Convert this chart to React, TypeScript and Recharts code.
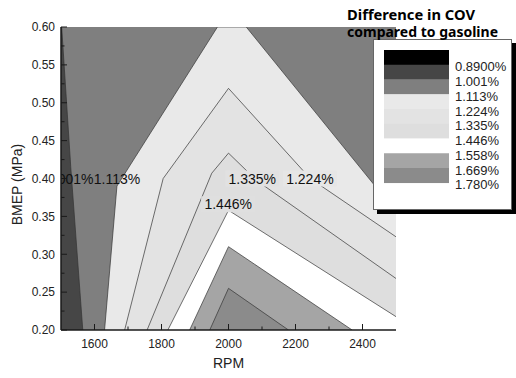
import React from "react";
import { Area, ComposedChart, Scatter, XAxis, YAxis } from "recharts";

// contour band edges as [rpm, bmep] corners; the band below each edge is filled
const edgeFrame = [[1500, 0.6], [2500, 0.6]];
const edge1001 = [[1500, 0.6], [1502, 0.6], [1529, 0.416], [1565, 0.2]];
const edge1113 = [[1630, 0.2], [1667, 0.39], [1967, 0.6], [2053, 0.6], [2500, 0.356]];
const edge1224 = [[1690, 0.2], [1805, 0.4], [2000, 0.519], [2244, 0.4], [2500, 0.323]];
const edge1335 = [[1757, 0.2], [1950, 0.407], [2000, 0.4335], [2085, 0.397], [2500, 0.268]];
const edge1446 = [[1819, 0.2], [2000, 0.358], [2500, 0.2176]];
const edge1558 = [[1884, 0.2], [2000, 0.31], [2369, 0.2]];
const edge1669 = [[1944, 0.2], [2000, 0.255], [2179, 0.2]];

const legendLevels = ["0.8900%", "1.001%", "1.113%", "1.224%", "1.335%", "1.446%", "1.558%", "1.669%", "1.780%"];

const contourLabels = [
  { text: "1.001%", rpm: 1526, bmep: 0.4 },
  { text: "1.113%", rpm: 1667, bmep: 0.4 },
  { text: "1.335%", rpm: 2071, bmep: 0.4 },
  { text: "1.224%", rpm: 2243, bmep: 0.4 },
  { text: "1.446%", rpm: 1999, bmep: 0.366 },
];

const xMajorTicks = [1600, 1800, 2000, 2200, 2400];
const xMinorTicks = [1700, 1900, 2100, 2300];
const yMajorTicks = [0.2, 0.25, 0.3, 0.35, 0.4, 0.45, 0.5, 0.55, 0.6];
const yMinorTicks = [0.225, 0.275, 0.325, 0.375, 0.425, 0.475, 0.525, 0.575];

// styles / layout
const W = 516;
const H = 378;
const MARGIN = { top: 27, right: 120, bottom: 0, left: 0 };
const Y_AXIS_W = 61;
const X_AXIS_H = 48;
const FONT = "'Liberation Sans', Arial, sans-serif";
const TEXT = "#222";
const AXIS = "#1a1a1a";
const LINE = "#333";
const BAND_FILLS = ["#000000", "#464646", "#7f7f7f", "#e9e9e9", "#e3e3e3", "#dedede", "#ffffff", "#a5a5a5", "#8b8b8b"];
const LABEL_BACKDROP: Record<string, string> = {
  "1.335%": "#e1e1e1",
  "1.224%": "#e6e6e6",
  "1.446%": "#dfdfdf",
};

const layers = [
  { key: "frame", edge: edgeFrame, band: 2, line: false },
  { key: "c1001", edge: edge1001, band: 1, line: true },
  { key: "c1113", edge: edge1113, band: 3, line: true },
  { key: "c1224", edge: edge1224, band: 4, line: true },
  { key: "c1335", edge: edge1335, band: 5, line: true },
  { key: "c1446", edge: edge1446, band: 6, line: true },
  { key: "c1558", edge: edge1558, band: 7, line: true },
  { key: "c1669", edge: edge1669, band: 8, line: true },
];

// one row per rpm, each edge only where it has a corner
const rows = new Map<number, Record<string, number>>();
layers.forEach((l) =>
  l.edge.forEach(([rpm, bmep]) => {
    const row = rows.get(rpm) ?? { rpm };
    row[l.key] = bmep;
    rows.set(rpm, row);
  })
);
const table = [...rows.values()].sort((a, b) => a.rpm - b.rpm);

const xTicks = [...xMajorTicks, ...xMinorTicks].sort((a, b) => a - b);
const yTicks = [...yMajorTicks, ...yMinorTicks].sort((a, b) => a - b);

const XTick = (props: any) => {
  const { x, y, payload } = props;
  const major = xMajorTicks.includes(payload.value);
  return (
    <g>
      <line x1={x} x2={x} y1={y} y2={y - (major ? 6 : 3.5)} stroke={AXIS} />
      {major && (
        <text x={x} y={y + 18} textAnchor="middle" fontSize={12} fontFamily={FONT} fill={TEXT}>
          {payload.value}
        </text>
      )}
    </g>
  );
};

const YTick = (props: any) => {
  const { x, y, payload } = props;
  const major = yMajorTicks.includes(payload.value);
  return (
    <g>
      <line x1={x} x2={x + (major ? 6 : 3.5)} y1={y} y2={y} stroke={AXIS} />
      {major && (
        <text x={x - 6} y={y + 4.3} textAnchor="end" fontSize={12} fontFamily={FONT} fill={TEXT}>
          {payload.value.toFixed(2)}
        </text>
      )}
    </g>
  );
};

const ContourLabel = (props: any) => {
  const { cx, cy, payload, index } = props;
  const back = LABEL_BACKDROP[payload.text];
  const clipId = `label-clip-${index}`;
  const left = MARGIN.left + Y_AXIS_W;
  return (
    <g>
      <defs>
        <clipPath id={clipId}>
          <rect x={left} y={0} width={W - left - MARGIN.right} height={H} />
        </clipPath>
      </defs>
      {back && <rect x={cx - 27} y={cy - 8} width={54} height={16} fill={back} />}
      <text x={cx} y={cy + 5} textAnchor="middle" fontSize={14} fontFamily={FONT} fill="#111" clipPath={`url(#${clipId})`}>
        {payload.text}
      </text>
    </g>
  );
};

const ColorLegend = () => {
  const top = 50;
  const step = 14.75;
  return (
    <svg width={W} height={H} style={{ position: "absolute", left: 0, top: 0, pointerEvents: "none" }}>
      <rect x={377} y={43} width={139} height={171} fill="#000" />
      <rect x={373.5} y={39.5} width={138} height={170} fill="#fff" stroke="#666" />
      <text x={347} y={20} fontSize={14} fontWeight="bold" fontFamily="'Noto Sans', sans-serif" fill="#000" textLength={128} lengthAdjust="spacingAndGlyphs">
        Difference in COV
      </text>
      <text x={347} y={36.5} fontSize={14} fontWeight="bold" fontFamily="'Noto Sans', sans-serif" fill="#000" textLength={151} lengthAdjust="spacingAndGlyphs">
        compared to gasoline
      </text>
      {BAND_FILLS.map((c, i) => (
        <rect key={c + i} x={384} y={top + i * step} width={65} height={step + 0.3} fill={c} />
      ))}
      {legendLevels.map((t, i) => (
        <text key={t} x={455} y={top + (i + 1) * step + 6.5} fontSize={13} fontFamily={FONT} fill={TEXT}>
          {t}
        </text>
      ))}
    </svg>
  );
};

// axes drawn in a second chart on top so the inward ticks stay visible over the bands
const Axes = ({ show }: { show: boolean }) => [
  <XAxis
    key="x"
    dataKey="rpm"
    type="number"
    domain={[1500, 2500]}
    allowDataOverflow
    ticks={xTicks}
    interval={0}
    tickSize={0}
    tickMargin={0}
    tick={show ? <XTick /> : false}
    tickLine={false}
    axisLine={show ? { stroke: AXIS, strokeWidth: 1.5 } : false}
    height={X_AXIS_H}
    label={show ? { value: "RPM", position: "insideBottom", offset: 10, fontSize: 14, fontFamily: FONT, fill: TEXT } : undefined}
  />,
  <YAxis
    key="y"
    type="number"
    domain={[0.2, 0.6]}
    allowDataOverflow
    ticks={yTicks}
    interval={0}
    tickSize={0}
    tickMargin={0}
    tick={show ? <YTick /> : false}
    tickLine={false}
    axisLine={show ? { stroke: AXIS, strokeWidth: 1.5 } : false}
    width={Y_AXIS_W}
    label={show ? { value: "BMEP (MPa)", angle: -90, position: "center", dx: -13, dy: 6, fontSize: 14, fontFamily: FONT, fill: TEXT } : undefined}
  />,
  <XAxis key="xt" xAxisId="top" orientation="top" type="number" domain={[1500, 2500]} height={0} tick={false} tickLine={false} axisLine={show ? { stroke: AXIS, strokeWidth: 1.2 } : false} />,
  <YAxis key="yr" yAxisId="right" orientation="right" type="number" domain={[0.2, 0.6]} width={0} tick={false} tickLine={false} axisLine={show ? { stroke: AXIS, strokeWidth: 1.2 } : false} />,
];

export default function App() {
  return (
    <div style={{ position: "absolute", left: 0, top: 0, width: W, height: H, background: "#fff" }}>
      <ComposedChart width={W} height={H} data={table} margin={MARGIN}>
        {layers.map((l) => (
          <Area
            key={l.key}
            dataKey={l.key}
            type="linear"
            baseValue="dataMin"
            fill={BAND_FILLS[l.band]}
            fillOpacity={1}
            stroke={l.line ? LINE : "none"}
            strokeWidth={0.7}
            connectNulls
            dot={false}
            activeDot={false}
            isAnimationActive={false}
          />
        ))}
        <Scatter data={contourLabels} dataKey="bmep" shape={<ContourLabel />} isAnimationActive={false} />
        {Axes({ show: false })}
      </ComposedChart>
      <div style={{ position: "absolute", left: 0, top: 0 }}>
        <ComposedChart width={W} height={H} data={table} margin={MARGIN}>
          {Axes({ show: true })}
        </ComposedChart>
      </div>
      <ColorLegend />
    </div>
  );
}
